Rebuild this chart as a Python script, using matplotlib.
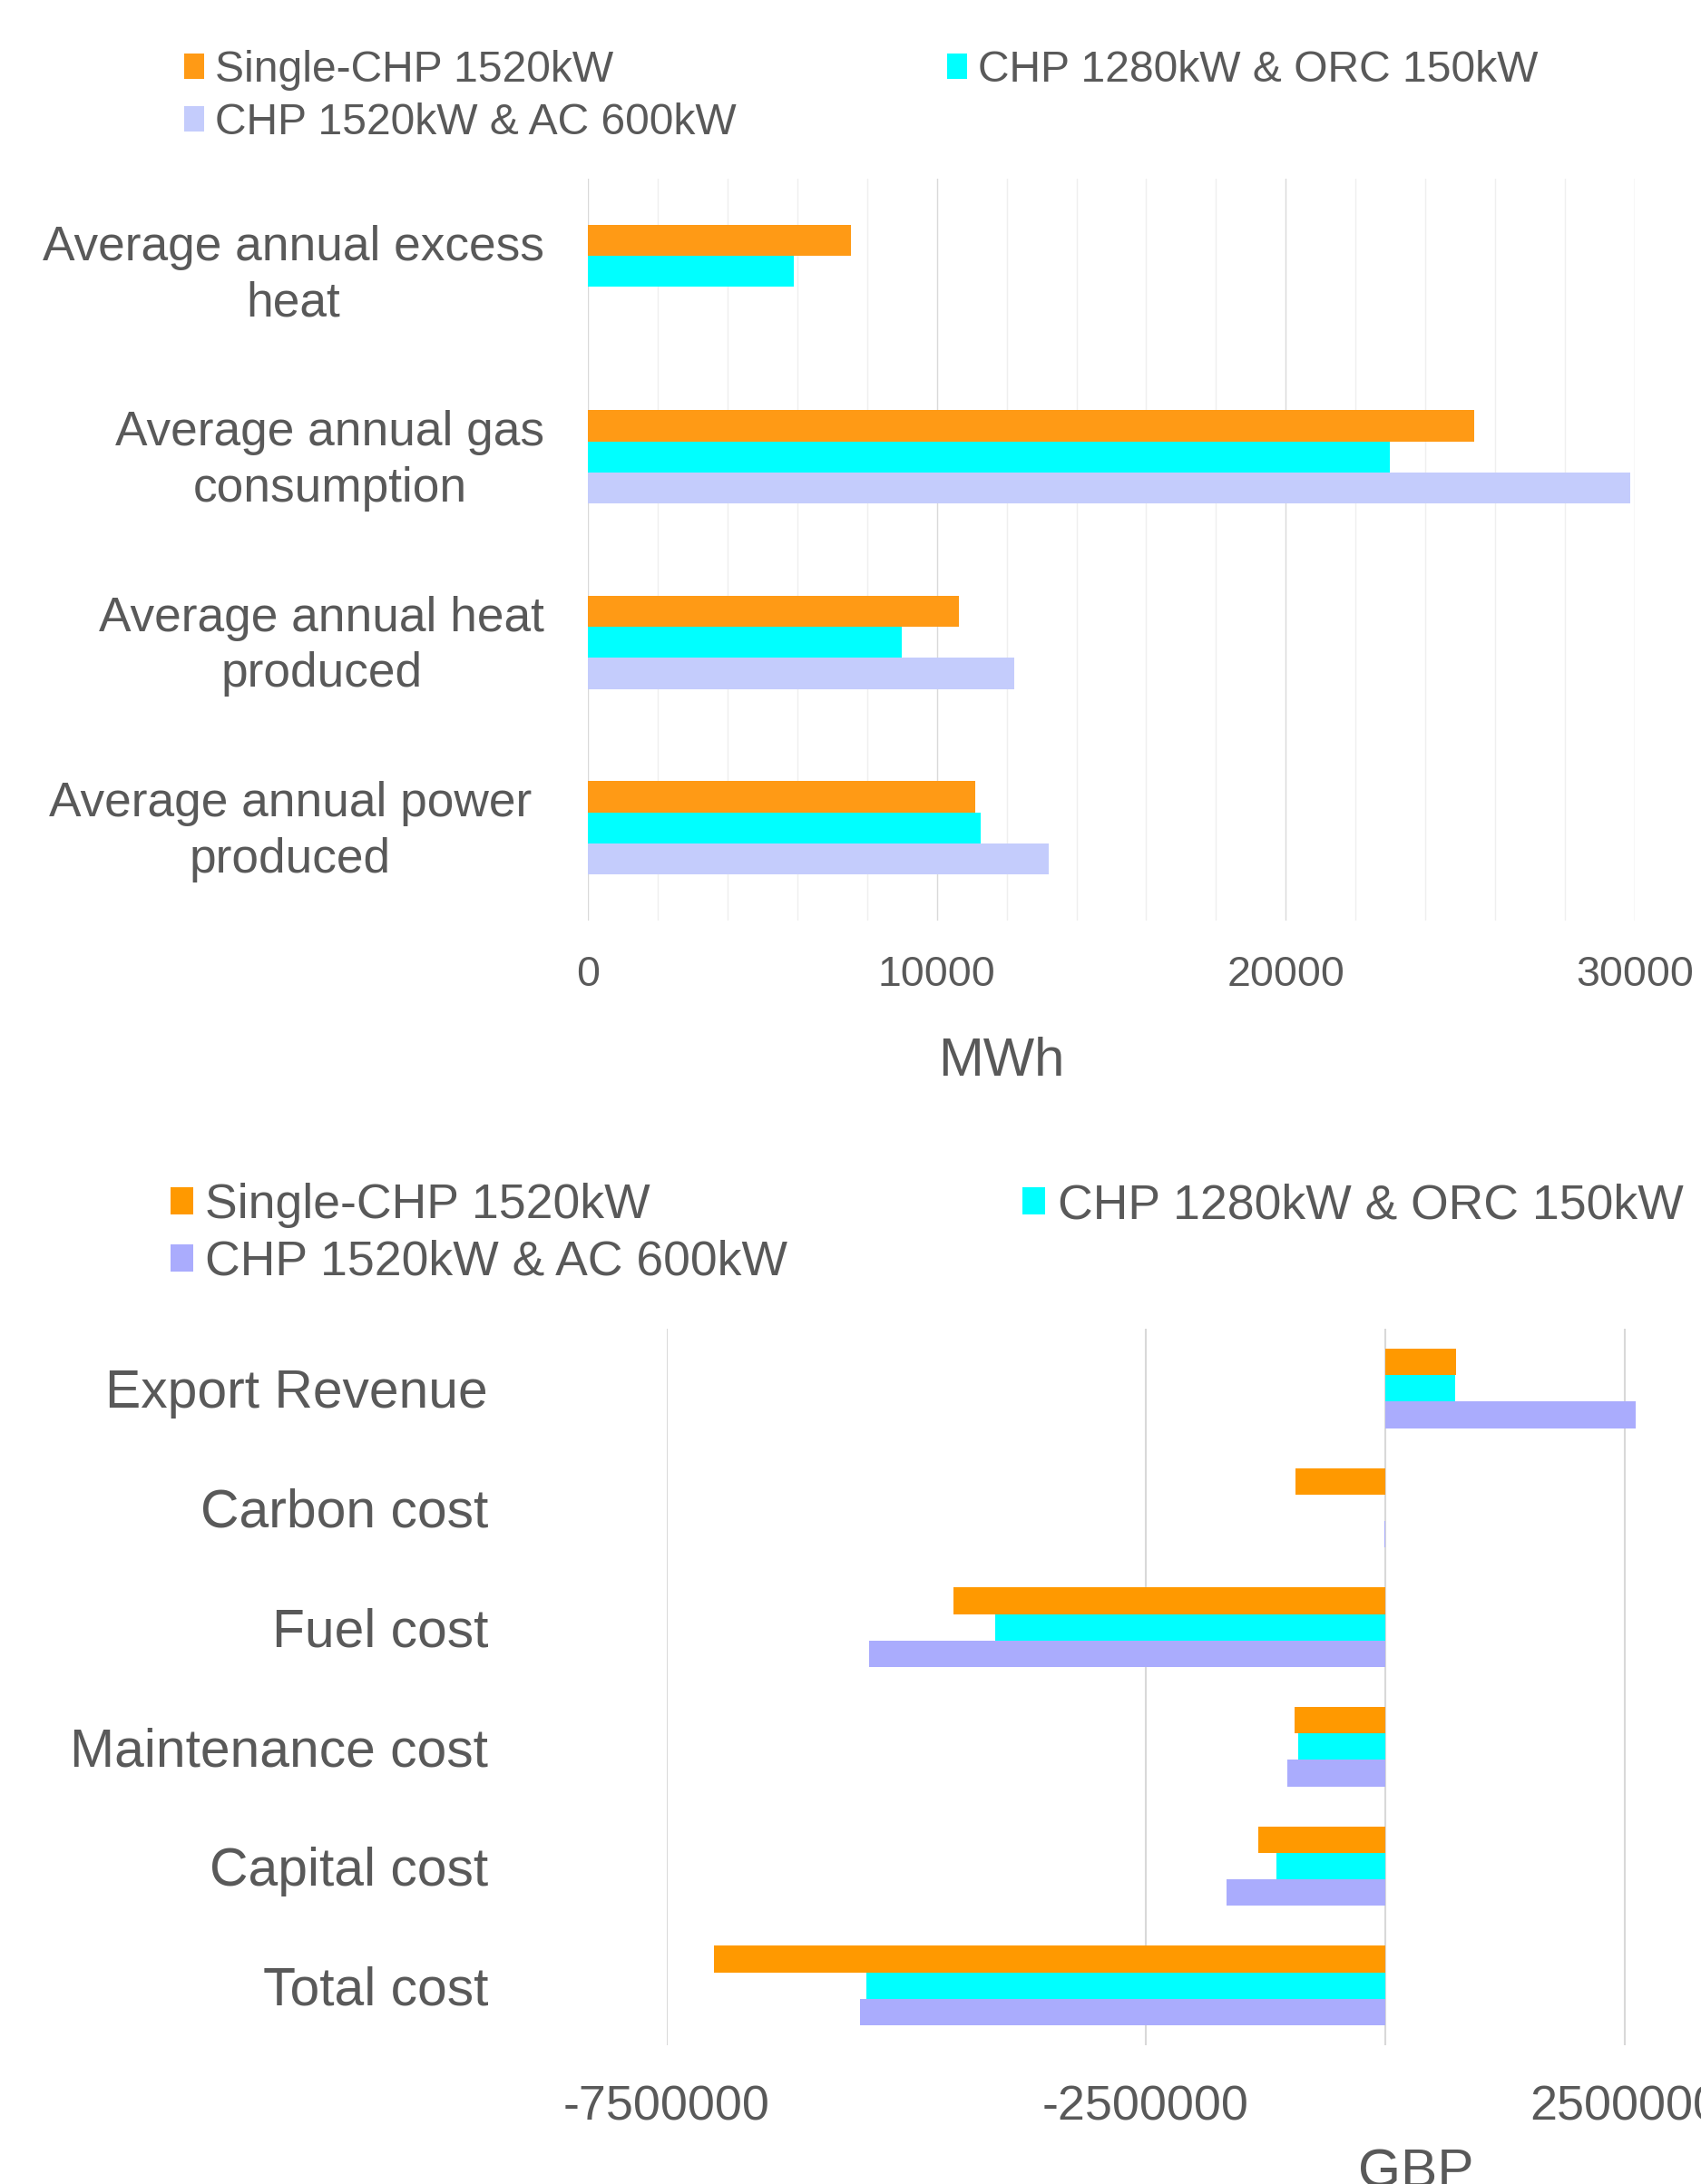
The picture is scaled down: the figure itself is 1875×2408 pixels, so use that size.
import matplotlib
matplotlib.use('Agg')
import matplotlib.pyplot as plt
import numpy as np
from matplotlib.patches import Patch
from matplotlib.transforms import ScaledTranslation

plt.rcParams['font.family'] = ['Liberation Sans', 'DejaVu Sans']

# ---------------- data ----------------
series_names = ["Single-CHP 1520kW", "CHP 1280kW & ORC 150kW", "CHP 1520kW & AC 600kW"]

energy_categories = ["Average annual excess\nheat", "Average annual gas\nconsumption",
                     "Average annual heat\nproduced", "Average annual power\nproduced"]
energy_single = [7540, 25410, 10620, 11090]
energy_orc = [5910, 22980, 8990, 11250]
energy_ac = [0, 29870, 12210, 13200]
energy_ticks = [0, 10000, 20000, 30000]

cost_categories = ["Export Revenue", "Carbon cost", "Fuel cost",
                   "Maintenance cost", "Capital cost", "Total cost"]
cost_single = [736000, -942000, -4505000, -951000, -1325000, -7011000]
cost_orc = [730000, 0, -4076000, -910000, -1138000, -5417000]
cost_ac = [2611000, -13000, -5386000, -1025000, -1658000, -5483000]
cost_ticks = [-7500000, -2500000, 2500000]

# ---------------- style ----------------
W, H = 1875, 2408
DPI = 100
TXT = '#595959'
top_colors = ['#FF9A15', '#00FFFF', '#C4CCFC']
bot_colors = ['#FF9900', '#00FFFF', '#AAACFD']

fig = plt.figure(figsize=(W / DPI, H / DPI), dpi=DPI)


def ax_rect(left, top, right, bottom):
    return [left / W, 1 - bottom / H, (right - left) / W, (bottom - top) / H]


def px_pt(px):
    return px * 72.0 / DPI


def shift(artist, dx_px, dy_px):
    artist.set_transform(artist.get_transform() +
                         ScaledTranslation(dx_px / DPI, dy_px / DPI, fig.dpi_scale_trans))


# ---------------- top chart ----------------
ax1 = fig.add_axes(ax_rect(648, 197, 1802, 1015))
n1 = len(energy_categories)
y1 = np.arange(n1)
h1 = 0.168
for k, (vals, col) in enumerate(zip([energy_single, energy_orc, energy_ac], top_colors)):
    ax1.barh(y1 + (k - 1) * h1, vals, height=h1, color=col, zorder=3)
ax1.set_xlim(0, 30000)
ax1.set_ylim(n1 - 0.5, -0.5)
ax1.set_xticks(energy_ticks)
ax1.set_xticklabels([str(t) for t in energy_ticks])
ax1.set_xticks(np.arange(0, 30001, 2000), minor=True)
ax1.grid(axis='x', which='minor', color='#EFEFEF', lw=1.0, zorder=0)
ax1.grid(axis='x', which='major', color='#D9D9D9', lw=1.0, zorder=1)
ax1.axvline(0, color='#D9D9D9', lw=1.2, zorder=2)
ax1.set_yticks(y1)
ax1.set_yticklabels(energy_categories, fontsize=38.3, color=TXT, ha='right',
                    multialignment='center', linespacing=1.3)
ax1.tick_params(axis='y', length=0, pad=px_pt(48))
ax1.tick_params(axis='x', which='both', length=0, pad=px_pt(38),
                labelsize=33.5, labelcolor=TXT)
for s in ax1.spines.values():
    s.set_visible(False)
for i, lbl in enumerate(ax1.get_yticklabels()):
    shift(lbl, -14 if i == 3 else 0, 7)
fig.text(1104 / W, 1 - 1186 / H, "MWh", fontsize=43, color=TXT, ha='center', va='baseline')

# top legend (row-wise order)
top_leg_pos = [(203, 77.5), (1044, 77.5), (203, 135.5)]
for name, col, (lx, ly) in zip(series_names, top_colors, top_leg_pos):
    fig.legend(handles=[Patch(facecolor=col, edgecolor='none')], labels=[name],
               loc='center left', bbox_to_anchor=(lx / W, 1 - ly / H),
               frameon=False, fontsize=34.6, labelcolor=TXT,
               handlelength=0.46, handleheight=0.52, handletextpad=0.25,
               borderpad=0, borderaxespad=0)

# ---------------- bottom chart ----------------
ax2 = fig.add_axes(ax_rect(735, 1465, 1808, 2255))
n2 = len(cost_categories)
y2 = np.arange(n2)
h2 = 0.222
for k, (vals, col) in enumerate(zip([cost_single, cost_orc, cost_ac], bot_colors)):
    ax2.barh(y2 + (k - 1) * h2, vals, height=h2, color=col, zorder=3)
ax2.set_xlim(-7500000, 2660000)
ax2.set_ylim(n2 - 0.5, -0.5)
ax2.set_xticks(cost_ticks)
ax2.set_xticklabels([str(t) for t in cost_ticks])
ax2.grid(axis='x', which='major', color='#D9D9D9', lw=1.5, zorder=0)
ax2.axvline(0, color='#D9D9D9', lw=1.5, zorder=1)
ax2.set_yticks(y2)
ax2.set_yticklabels(cost_categories, fontsize=42.3, color=TXT)
ax2.tick_params(axis='y', length=0, pad=px_pt(197))
ax2.tick_params(axis='x', length=0, pad=px_pt(43), labelsize=38.8, labelcolor=TXT)
for s in ax2.spines.values():
    s.set_visible(False)
fig.text(1561 / W, 1 - 2411 / H, "GBP", fontsize=43.5, color=TXT, ha='center', va='baseline')

bot_leg_pos = [(188, 1329), (1127, 1329), (188, 1392)]
for name, col, (lx, ly) in zip(series_names, bot_colors, bot_leg_pos):
    fig.legend(handles=[Patch(facecolor=col, edgecolor='none')], labels=[name],
               loc='center left', bbox_to_anchor=(lx / W, 1 - ly / H),
               frameon=False, fontsize=38.5, labelcolor=TXT,
               handlelength=0.47, handleheight=0.51, handletextpad=0.25,
               borderpad=0, borderaxespad=0)

fig.savefig('out.png', dpi=DPI)
